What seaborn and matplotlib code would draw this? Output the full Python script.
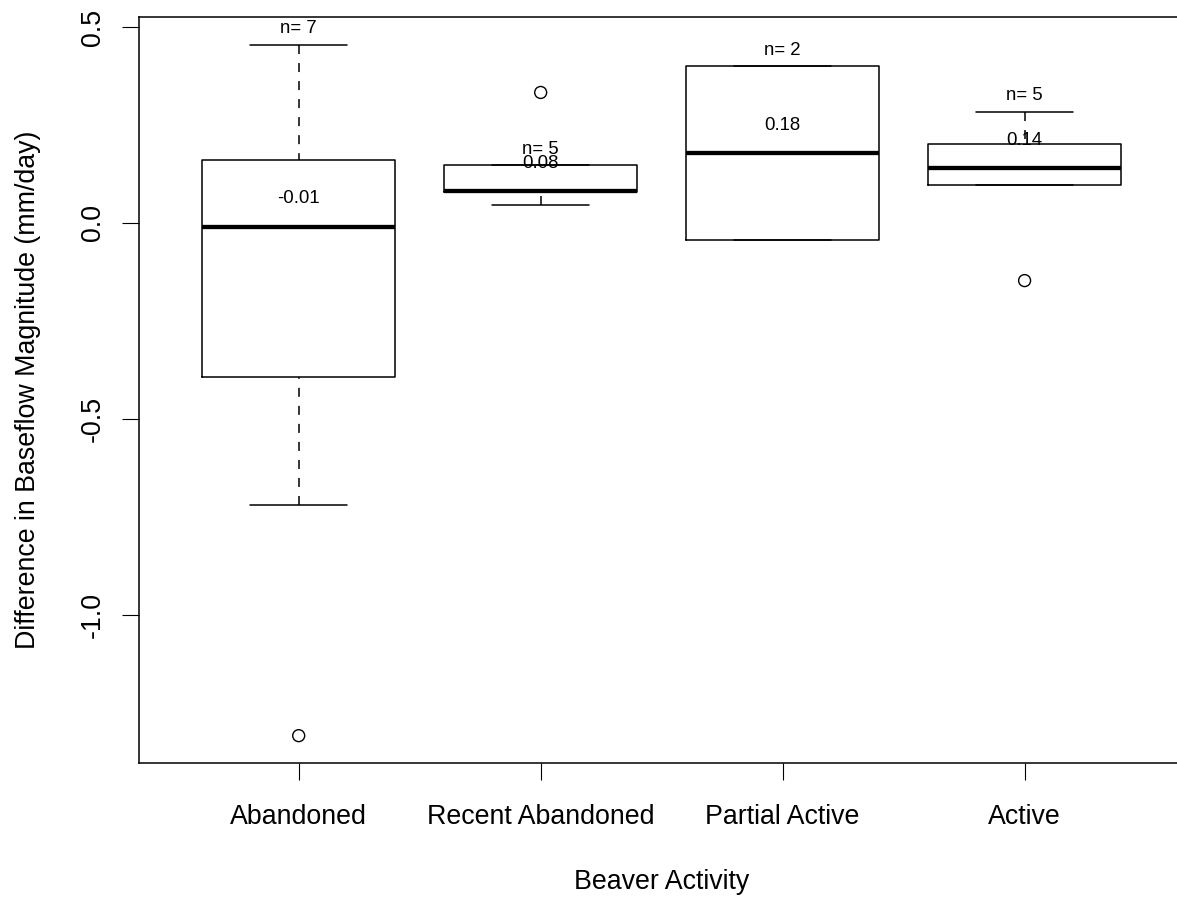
import numpy as np
import pandas as pd
import matplotlib
matplotlib.use("Agg")
import matplotlib.pyplot as plt
import matplotlib.transforms as mtransforms
import seaborn as sns

# ---- data -------------------------------------------------------------
categories = ["Abandoned", "Recent Abandoned", "Partial Active", "Active"]
abandoned = [-1.308, -0.720, -0.068, -0.009, 0.104, 0.218, 0.455]
recent_abandoned = [0.047, 0.078, 0.082, 0.147, 0.333]
partial_active = [-0.043, 0.401]
active = [-0.147, 0.096, 0.139, 0.2015, 0.284]

ytick_values = [-1.0, -0.5, 0.0, 0.5]
ytick_labels = ["-1.0", "-0.5", "0.0", "0.5"]
x_title = "Beaver Activity"
y_title = "Difference in Baseflow Magnitude (mm/day)"

groups = [abandoned, recent_abandoned, partial_active, active]


# ---- Tukey five-number summary / classic boxplot statistics ------------
def fivenum(v):
    x = np.sort(np.asarray(v, float))
    n = len(x)
    n4 = np.floor((n + 3) / 2) / 2
    d = np.array([1, n4, (n + 1) / 2, n + 1 - n4, n]) - 1
    return 0.5 * (x[np.floor(d).astype(int)] + x[np.ceil(d).astype(int)])


def box_stats(v, label, coef=1.5):
    x = np.asarray(v, float)
    _, q1, med, q3, _ = fivenum(x)
    iqr = q3 - q1
    out = (x < q1 - coef * iqr) | (x > q3 + coef * iqr)
    inside = x[~out]
    return dict(label=label, whislo=inside.min(), q1=q1, med=med, q3=q3,
                whishi=inside.max(), fliers=x[out])


stats = [box_stats(g, c) for g, c in zip(groups, categories)]
counts = [len(g) for g in groups]
positions = np.arange(len(categories))

outliers = pd.DataFrame(
    [(p, f) for p, s in zip(positions, stats) for f in s["fliers"]],
    columns=["pos", "value"],
)

# ---- style ------------------------------------------------------------
sns.set_style("ticks")
plt.rcParams["font.family"] = ["Liberation Sans", "DejaVu Sans"]
plt.rcParams["axes.edgecolor"] = "black"
plt.rcParams["xtick.color"] = "black"
plt.rcParams["ytick.color"] = "black"
plt.rcParams["text.color"] = "black"
plt.rcParams["axes.labelcolor"] = "black"

LW = 1.1
TICK_FS = 19.3
NOTE_FS = 13.4

fig = plt.figure(figsize=(11.77, 8.97), dpi=100)
ax = fig.add_axes([139 / 1177, (897 - 763.3) / 897, 1045.3 / 1177, 746.3 / 897])

line_kw = dict(color="black", linewidth=LW)
arts = ax.bxp(
    stats,
    positions=positions,
    widths=0.8,
    showfliers=False,
    manage_ticks=False,
    boxprops=dict(**line_kw),
    whiskerprops=dict(**line_kw, linestyle=(0, (5.9, 5.9))),
    capprops=dict(**line_kw),
    medianprops=dict(color="black", linewidth=3.1, solid_capstyle="butt"),
)
# run the dashes outward from the whisker end toward the box
for w in arts["whiskers"]:
    w.set_data(w.get_xdata()[::-1], w.get_ydata()[::-1])

sns.scatterplot(
    data=outliers, x="pos", y="value", ax=ax, marker="o", s=74,
    facecolor="none", edgecolor="black", linewidth=1.0, legend=False, zorder=3,
)

# sample size above each upper whisker, median value above each median;
# text is set on its baseline, lowered so the digits sit centred on the point
note_tf = mtransforms.offset_copy(ax.transData, fig=fig, x=0, y=-6.0,
                                  units="points")
for p, s, n in zip(positions, stats, counts):
    ax.text(p, s["whishi"] + 0.05, f"n= {n}", ha="center", va="baseline",
            fontsize=NOTE_FS, transform=note_tf)
    ax.text(p, s["med"] + 0.08, f"{s['med']:.2f}", ha="center", va="baseline",
            fontsize=NOTE_FS, transform=note_tf)

# ---- axes -------------------------------------------------------------
all_vals = np.concatenate([np.asarray(g, float) for g in groups])
lo, hi = all_vals.min(), all_vals.max()
pad = 0.04 * (hi - lo)
ax.set_ylim(lo - pad, hi + pad)
ax.set_xlim(-0.5 - 0.16, len(categories) - 0.5 + 0.16)

ax.set_xticks(positions, categories)
ax.set_yticks(ytick_values, ytick_labels)
ax.tick_params(axis="both", direction="out", length=12.24, width=0.8,
               labelsize=TICK_FS, color="black")
ax.tick_params(axis="x", pad=17.0)
ax.tick_params(axis="y", pad=11.7)
plt.setp(ax.get_yticklabels(), rotation=90, va="center")

ax.set_xlabel(x_title, fontsize=TICK_FS)
ax.set_ylabel(y_title, fontsize=TICK_FS)
ax.xaxis.set_label_coords(0.5, -0.1416)
ax.yaxis.set_label_coords(-0.0940, 0.5)

for sp in ax.spines.values():
    sp.set_visible(True)
    sp.set_linewidth(LW)
    sp.set_color("black")

fig.savefig("out.png", dpi=100)
